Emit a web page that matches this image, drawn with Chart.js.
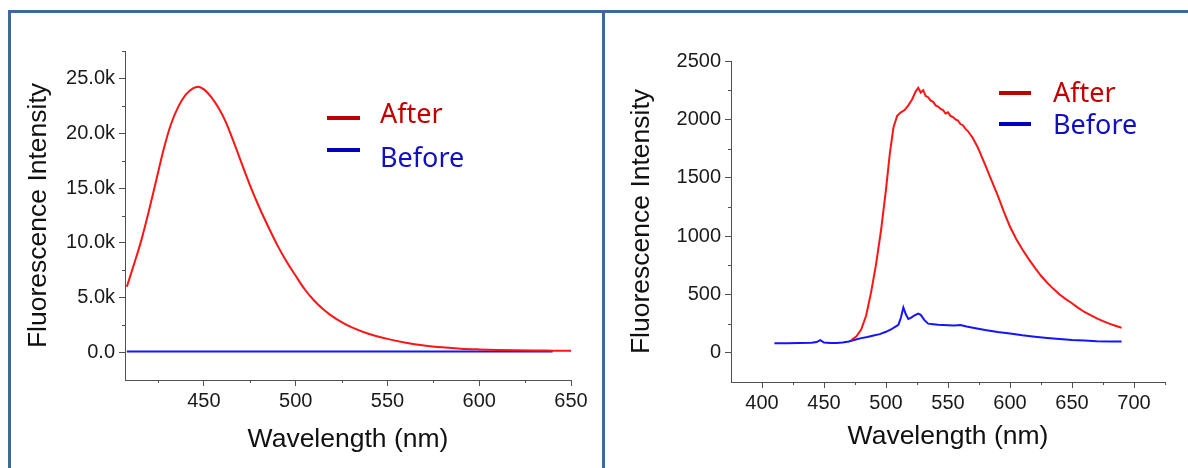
<!DOCTYPE html>
<html>
<head>
<meta charset="utf-8">
<script src="https://cdn.jsdelivr.net/npm/chart.js@4.4.1/dist/chart.umd.min.js"></script>
<style>
  html, body { margin:0; padding:0; background:#fff; }
  body { width:1188px; height:468px; position:relative; overflow:hidden; }
  canvas { position:absolute; top:0; }
  #c1 { left:0; }
  #c2 { left:603px; }
  .frame { position:absolute; background:#41679b; }
  .leg { position:absolute; font-family:"Noto Sans", sans-serif; font-size:27px; line-height:27px; white-space:nowrap; }
  .legline { position:absolute; height:4px; }
</style>
</head>
<body>
<canvas id="c1" width="603" height="468"></canvas>
<canvas id="c2" width="585" height="468"></canvas>

<div class="frame" style="left:8px; top:10px; width:1180px; height:3px;"></div>
<div class="frame" style="left:8px; top:10px; width:3px; height:458px;"></div>
<div class="frame" style="left:602px; top:10px; width:3px; height:458px;"></div>

<div class="legline" style="left:327px; top:116px; width:33px; background:#c00000;"></div>
<div class="leg" style="left:380px; top:99px; color:#c00000;">After</div>
<div class="legline" style="left:327px; top:148px; width:33px; background:#0000c0;"></div>
<div class="leg" style="left:380px; top:143px; color:#1010c0;">Before</div>

<div class="legline" style="left:999px; top:91px; width:32px; background:#c00000;"></div>
<div class="leg" style="left:1053px; top:78px; color:#c00000;">After</div>
<div class="legline" style="left:999px; top:122px; width:32px; background:#0000c0;"></div>
<div class="leg" style="left:1053px; top:110px; color:#1010c0;">Before</div>

<script>
// ---------- Data ----------
// Left panel
const leftWavelength = [408,412,416,420,424,428,432,436,440,444,447,450,454,458,462,466,470,475,480,485,490,495,500,505,510,515,520,525,530,540,550,560,570,580,590,600,610,620,630,640,650];
const leftAfter = [6000,8100,10300,12900,15700,18500,20800,22400,23500,24100,24250,24000,23300,22300,21000,19300,17500,15300,13300,11500,9800,8300,7000,5750,4750,3950,3300,2780,2350,1700,1250,900,650,480,360,290,240,210,190,175,160];
const leftBeforeWavelength = [408,450,500,550,600,640];
const leftBefore = [100,100,90,100,100,110];
const leftYTicks = [0,5000,10000,15000,20000,25000];
const leftXTicks = [450,500,550,600,650];

// Right panel
const rightAfterWavelength = [472,476,480,484,488,492,496,500,503,506,509,512,515,518,521,524,526,528,530,532,534,536,538,540,542,544,546,548,550,552,554,556,558,560,562,564,566,568,570,572,574,576,578,580,585,590,595,600,605,610,615,620,625,630,635,640,645,650,655,660,665,670,675,680,685,690];
const rightAfter = [110,140,200,320,520,760,1050,1400,1700,1930,2030,2060,2080,2120,2170,2240,2270,2230,2250,2200,2190,2160,2150,2120,2110,2090,2080,2050,2060,2030,2020,2000,1990,1960,1950,1920,1900,1870,1840,1800,1760,1710,1660,1610,1480,1350,1210,1080,975,885,805,730,660,600,548,500,460,425,385,350,322,295,272,250,232,215];
const rightBeforeWavelength = [410,420,430,440,444,447,450,455,460,465,470,475,480,485,490,495,500,504,507,510,512,514,516,518,520,523,526,528,531,534,538,542,546,550,555,560,565,570,580,590,600,610,620,630,640,650,660,670,680,690];
const rightBefore = [83,82,84,86,92,109,88,84,85,88,97,112,126,135,148,160,180,200,220,240,300,389,330,290,300,320,335,325,280,250,245,240,238,236,234,238,225,215,195,178,165,150,138,127,118,110,105,100,98,96];
const rightYTicks = [0,500,1000,1500,2000,2500];
const rightXTicks = [400,450,500,550,600,650,700];

const seriesNames = ['After','Before'];

// ---------- Helpers ----------
const pts = (xs, ys) => xs.map((x, i) => ({x, y: ys[i]}));

const minorTicks = {
  id: 'minorTicks',
  afterDraw(chart, args, o) {
    const ctx = chart.ctx, xs = chart.scales.x, ys = chart.scales.y;
    ctx.save();
    ctx.strokeStyle = o.color; ctx.lineWidth = 1;
    for (let v = o.xStart; v <= xs.max + 1e-6; v += o.xStep) {
      const p = Math.round(xs.getPixelForValue(v)) + 0.5;
      ctx.beginPath(); ctx.moveTo(p, xs.top); ctx.lineTo(p, xs.top + o.len); ctx.stroke();
    }
    for (let v = o.yStart; v <= ys.max + 1e-6; v += o.yStep) {
      const p = Math.round(ys.getPixelForValue(v)) + 0.5;
      ctx.beginPath(); ctx.moveTo(ys.right, p); ctx.lineTo(ys.right - o.len, p); ctx.stroke();
    }
    ctx.restore();
  }
};

const AXIS = '#505050';
const TXT = '#1a1a1a';
const tickFont = {family: '"Liberation Sans", Arial, sans-serif', size: 20};
const titleFont = {family: '"Liberation Sans", Arial, sans-serif', size: 26.5};

function makeChart(id, cfg) {
  return new Chart(document.getElementById(id), {
    type: 'line',
    data: {
      datasets: [
        {label: seriesNames[0], data: cfg.after, borderColor: 'rgb(255,20,20)', borderWidth: 2, pointRadius: 0, tension: cfg.tension, cubicInterpolationMode: cfg.mono ? 'monotone' : 'default', fill: false},
        {label: seriesNames[1], data: cfg.before, borderColor: 'rgb(20,20,255)', borderWidth: 2, pointRadius: 0, tension: cfg.tension, fill: false}
      ]
    },
    options: {
      responsive: false, animation: false, devicePixelRatio: 1,
      layout: {padding: cfg.padding},
      plugins: {legend: {display: false}, tooltip: {enabled: false}, minorTicks: cfg.minor},
      scales: {
        x: {
          type: 'linear', min: cfg.xMin, max: cfg.xMax,
          ticks: {stepSize: 50, color: TXT, font: tickFont, padding: 3, maxRotation: 0, autoSkip: false},
          afterBuildTicks: s => { s.ticks = cfg.xTicks.map(v => ({value: v})); },
          afterFit: s => { s.height = cfg.xAxisH; },
          grid: {drawOnChartArea: false, drawTicks: true, tickLength: 6, tickColor: AXIS},
          border: {display: true, color: AXIS, width: 1},
          title: {display: true, text: 'Wavelength (nm)', color: '#111', font: titleFont, padding: 0}
        },
        y: {
          type: 'linear', min: cfg.yMin, max: cfg.yMax,
          ticks: {color: TXT, font: tickFont, padding: 4, callback: cfg.yFmt},
          afterBuildTicks: s => { s.ticks = cfg.yTicks.map(v => ({value: v})); },
          afterFit: s => { s.width = cfg.yAxisW; },
          grid: {drawOnChartArea: false, drawTicks: true, tickLength: 6, tickColor: AXIS},
          border: {display: true, color: AXIS, width: 1},
          title: {display: true, text: 'Fluorescence Intensity', color: '#111', font: titleFont, padding: 0}
        }
      }
    },
    plugins: [minorTicks]
  });
}

makeChart('c1', {
  after: pts(leftWavelength, leftAfter),
  before: pts(leftBeforeWavelength, leftBefore),
  tension: 0.4, mono: true,
  padding: {left: 23, right: 32, top: 51, bottom: 12},
  xMin: 407, xMax: 650, xTicks: leftXTicks, xAxisH: 76,
  yMin: -2500, yMax: 27500, yTicks: leftYTicks, yAxisW: 102,
  yFmt: v => v === 0 ? '0.0' : (v / 1000).toFixed(1) + 'k',
  minor: {color: AXIS, len: 3, xStart: 425, xStep: 50, yStart: 2500, yStep: 5000}
});

makeChart('c2', {
  after: pts(rightAfterWavelength, rightAfter),
  before: pts(rightBeforeWavelength, rightBefore),
  tension: 0, mono: false,
  padding: {left: 23, right: 23, top: 61, bottom: 15},
  xMin: 375, xMax: 725, xTicks: rightXTicks, xAxisH: 71,
  yMin: -250, yMax: 2500, yTicks: rightYTicks, yAxisW: 105,
  yFmt: v => String(v),
  minor: {color: AXIS, len: 3, xStart: 425, xStep: 50, yStart: 250, yStep: 500}
});
</script>
</body>
</html>
